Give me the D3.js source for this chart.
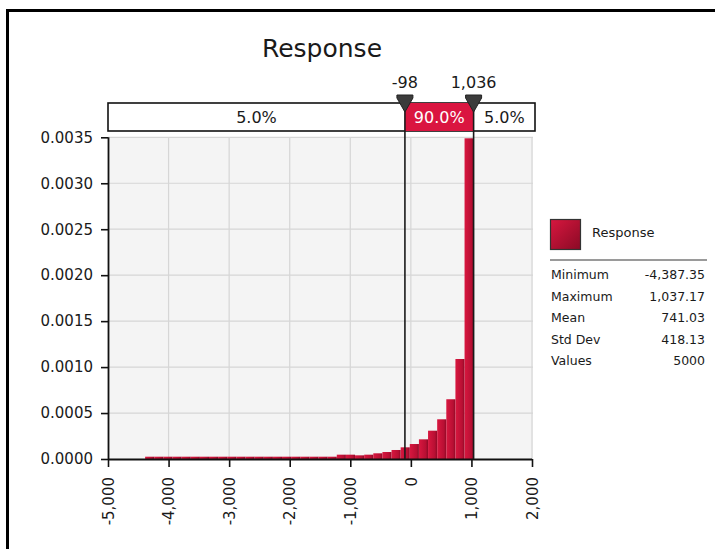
<!DOCTYPE html>
<html><head><meta charset="utf-8">
<script src="https://cdn.jsdelivr.net/npm/d3@7"></script>
<style>
body{margin:0;background:#fff;}
text{font-family:"DejaVu Sans",Verdana,sans-serif;fill:#1a1a1a;}
</style></head>
<body>
<svg id="chart" width="715" height="549"></svg>
<script>
// ---- data ----
const title = "Response";
const binStart = -4387.35;
const binWidth = 150.68;
const densities = [
  0.000025,0.000025,0.000025,0.000025,0.000025,0.000025,0.000025,
  0.000025,0.000025,0.000025,0.000025,0.000025,0.000025,0.000025,
  0.000025,0.000025,0.000025,0.000025,0.000025,0.000025,0.000025,
  0.000047,0.000047,0.000040,0.000047,0.000062,0.000076,0.000098,
  0.000127,0.000163,0.000214,0.000308,0.000432,0.000650,0.001088,0.003489
];
const xTicks = [-5000,-4000,-3000,-2000,-1000,0,1000,2000];
const yTicks = [0,0.0005,0.0010,0.0015,0.0020,0.0025,0.0030,0.0035];
const delimiters = [-98, 1036];
const delimiterLabels = ["-98","1,036"];
const percents = ["5.0%","90.0%","5.0%"];
const statNames = ["Minimum","Maximum","Mean","Std Dev","Values"];
const statValues = ["-4,387.35","1,037.17","741.03","418.13","5000"];

// ---- drawing ----
const svg = d3.select("#chart");
const defs = svg.append("defs");
const g1 = defs.append("linearGradient").attr("id","barGrad").attr("x1","0").attr("x2","1").attr("y1","0").attr("y2","0");
g1.append("stop").attr("offset","0").attr("stop-color","#d8173f");
g1.append("stop").attr("offset","0.75").attr("stop-color","#b80f33");
g1.append("stop").attr("offset","1").attr("stop-color","#8e0a26");
const g2 = defs.append("linearGradient").attr("id","swGrad").attr("x1","0").attr("x2","1").attr("y1","0").attr("y2","1");
g2.append("stop").attr("offset","0").attr("stop-color","#d8173f");
g2.append("stop").attr("offset","1").attr("stop-color","#8a0a25");

// outer frame
svg.append("rect").attr("x",7.5).attr("y",10.5).attr("width",760).attr("height",600)
  .attr("fill","none").attr("stroke","#000").attr("stroke-width",3);

const x = d3.scaleLinear().domain([-5000,2000]).range([108,532]);
const y = d3.scaleLinear().domain([0,0.0035]).range([459,137.3]);

// plot background
svg.append("rect").attr("x",x(-5000)).attr("y",y(0.0035)).attr("width",x(2000)-x(-5000)+1)
  .attr("height",y(0)-y(0.0035)).attr("fill","#f4f4f4");

// grid
svg.append("g").selectAll("line").data(xTicks.slice(1)).join("line")
  .attr("x1",d=>x(d)).attr("x2",d=>x(d)).attr("y1",y(0.0035)).attr("y2",y(0))
  .attr("stroke","#d6d6d6").attr("stroke-width",1.2);
svg.append("g").selectAll("line").data(yTicks.slice(1)).join("line")
  .attr("x1",x(-5000)).attr("x2",x(2000)+1).attr("y1",d=>y(d)).attr("y2",d=>y(d))
  .attr("stroke","#d6d6d6").attr("stroke-width",1.2);

// bars
svg.append("g").selectAll("rect").data(densities).join("rect")
  .attr("x",(d,i)=>x(binStart+i*binWidth))
  .attr("width",(d,i)=>x(binStart+(i+1)*binWidth)-x(binStart+i*binWidth))
  .attr("y",d=>y(d)).attr("height",d=>y(0)-y(d))
  .attr("fill","url(#barGrad)");

// axes
const fmtX = d => d3.format(",")(d).replace("\u2212","-");
const yAxis = svg.append("g").attr("transform",`translate(${x(-5000)},0)`)
  .call(d3.axisLeft(y).tickValues(yTicks).tickFormat(d3.format(".4f")).tickSize(7).tickPadding(8));
const xAxis = svg.append("g").attr("transform",`translate(0,${y(0)})`)
  .call(d3.axisBottom(x).tickValues(xTicks).tickFormat(fmtX).tickSize(8).tickPadding(10));
[yAxis,xAxis].forEach(a=>{
  a.select(".domain").attr("stroke","#111").attr("stroke-width",1.8);
  a.selectAll(".tick line").attr("stroke","#111").attr("stroke-width",1.6);
  a.selectAll("text").style("font-size","15px").attr("fill","#1a1a1a");
});
xAxis.select(".domain").attr("d",`M${x(-5000)},0.5H${x(2000)}`);
yAxis.select(".domain").attr("d",`M0.5,${y(0)}V${y(0.0035)}`);
xAxis.selectAll(".tick text")
  .attr("transform","rotate(-90)")
  .attr("text-anchor","end")
  .attr("x",-18).attr("y",0).attr("dy","0.35em");

// title
svg.append("text").attr("x",322).attr("y",57).attr("text-anchor","middle")
  .style("font-size","25px").text(title);

// delimiter box
const bx0 = 108, bx1 = 535, by0 = 103, by1 = 131;
svg.append("rect").attr("x",bx0).attr("y",by0).attr("width",bx1-bx0).attr("height",by1-by0)
  .attr("fill","#fff").attr("stroke","#111").attr("stroke-width",1.6);
svg.append("rect").attr("x",x(delimiters[0])).attr("y",by0).attr("width",x(delimiters[1])-x(delimiters[0]))
  .attr("height",by1-by0).attr("fill","#da1540");
const secCenters = [(bx0+x(delimiters[0]))/2,(x(delimiters[0])+x(delimiters[1]))/2,(x(delimiters[1])+bx1)/2];
svg.append("g").selectAll("text").data(percents).join("text")
  .attr("x",(d,i)=>secCenters[i]).attr("y",123).attr("text-anchor","middle")
  .style("font-size","16px")
  .style("fill",(d,i)=>i===1?"#fff":"#1a1a1a").text(d=>d);

// delimiter lines + markers
svg.append("g").selectAll("line").data(delimiters).join("line")
  .attr("x1",d=>x(d)).attr("x2",d=>x(d)).attr("y1",98).attr("y2",y(0))
  .attr("stroke","#1a1a1a").attr("stroke-width",1.6);
svg.append("g").selectAll("path").data(delimiters).join("path")
  .attr("d",d=>`M${x(d)-8},95L${x(d)+8},95L${x(d)+8},98L${x(d)},112L${x(d)-8},98Z`)
  .attr("fill","#3c3c3c").attr("stroke","#222").attr("stroke-width",1);
svg.append("g").selectAll("text").data(delimiterLabels).join("text")
  .attr("x",(d,i)=>x(delimiters[i])).attr("y",88).attr("text-anchor","middle")
  .style("font-size","16px").text(d=>d);

// legend
svg.append("rect").attr("x",550.5).attr("y",219.5).attr("width",30).attr("height",30)
  .attr("fill","url(#swGrad)").attr("stroke","#333").attr("stroke-width",1.2);
svg.append("text").attr("x",592).attr("y",237).style("font-size","13px").text(title);
svg.append("line").attr("x1",550).attr("x2",707).attr("y1",260).attr("y2",260)
  .attr("stroke","#9a9a9a").attr("stroke-width",2);
svg.append("g").selectAll("text").data(statNames).join("text")
  .attr("x",551).attr("y",(d,i)=>279+i*21.5).style("font-size","12.5px").text(d=>d);
svg.append("g").selectAll("text").data(statValues).join("text")
  .attr("x",705).attr("y",(d,i)=>279+i*21.5).attr("text-anchor","end").style("font-size","12.5px").text(d=>d);
</script>
</body></html>
